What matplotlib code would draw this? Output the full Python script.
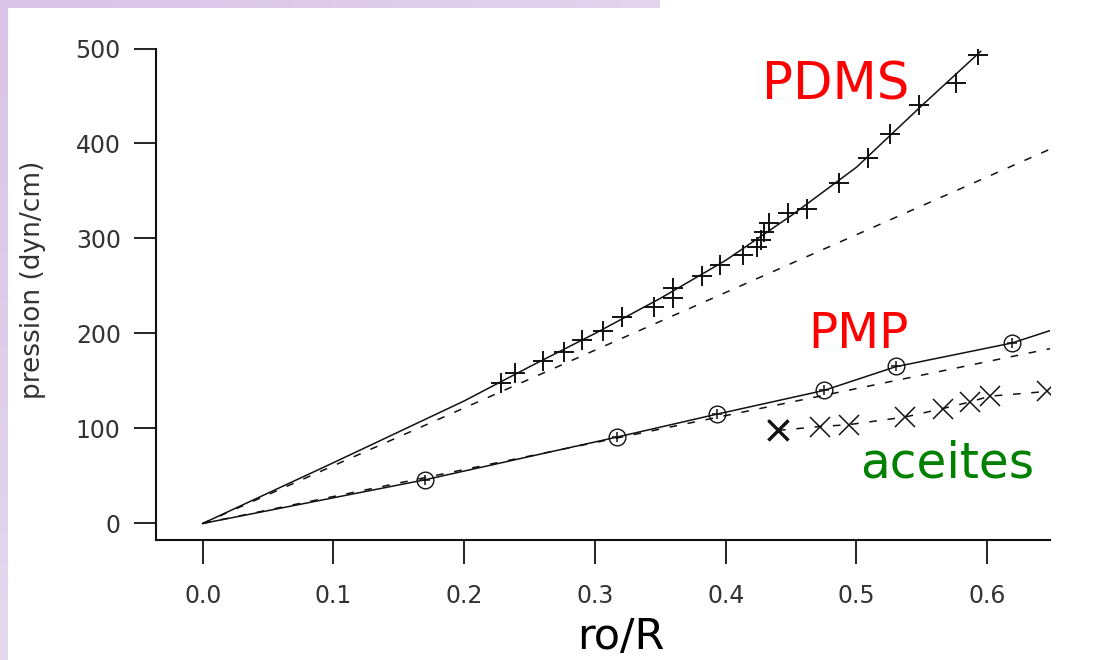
import numpy as np
import matplotlib
matplotlib.use("Agg")
from matplotlib import pyplot as plt

# ----------------- Données ----------------- #
# PDMS (croix +)
pdms_x = [0.228, 0.239, 0.260, 0.276, 0.290, 0.306, 0.321, 0.345, 0.360, 0.360,
          0.382, 0.396, 0.413, 0.424, 0.427, 0.429, 0.433, 0.448, 0.462, 0.487,
          0.509, 0.526, 0.548, 0.576, 0.593]
pdms_y = [148, 158, 171, 181, 193, 203, 217, 228, 237, 248,
          260, 272, 283, 291, 298, 307, 316, 327, 331, 358,
          385, 410, 440, 464, 493]
# courbe continue PDMS
pdms_fit_x = [0, 0.1, 0.2, 0.25, 0.3, 0.35, 0.4, 0.45, 0.5, 0.55, 0.595]
pdms_fit_y = [0, 64, 129, 165, 200, 237, 277, 324, 375, 440, 497]
# droite pointillée PDMS
pdms_lin_x = [0, 0.648]
pdms_lin_y = [0, 394]

# PMP (cercles)
pmp_x = [0.170, 0.317, 0.393, 0.475, 0.530, 0.619]
pmp_y = [46, 91, 115, 140, 166, 190]
pmp_fit_x = [0, 0.170, 0.317, 0.393, 0.475, 0.530, 0.619, 0.648]
pmp_fit_y = [0, 46, 91, 115, 140, 165, 190, 203]
pmp_lin_x = [0, 0.648]
pmp_lin_y = [0, 184]

# aceites (croix x)
oil_x = [0.440, 0.472, 0.494, 0.537, 0.566, 0.587, 0.602, 0.646]
oil_y = [98, 102, 104, 112, 121, 128, 134, 139]

xticks = [0.0, 0.1, 0.2, 0.3, 0.4, 0.5, 0.6]
yticks = [0, 100, 200, 300, 400, 500]

# ----------------- Figure ----------------- #
W, H = 1111, 660
fig = plt.figure(figsize=(W / 100, H / 100), dpi=100)
fig.patch.set_facecolor("white")

# bandes lavande (fond de diapositive)
grad = np.linspace(0, 1, 256)
band_l = fig.add_axes([0, 0, 8 / W, 1])
band_l.imshow(grad.reshape(-1, 1)[::-1], aspect="auto", cmap=matplotlib.colors.LinearSegmentedColormap.from_list(
    "lav", ["#e4d8ee", "#d9c3e6"]), extent=[0, 1, 0, 1])
band_l.axis("off")
band_t = fig.add_axes([0, 1 - 8 / H, 660 / W, 8 / H])
band_t.imshow(grad.reshape(1, -1), aspect="auto", cmap=matplotlib.colors.LinearSegmentedColormap.from_list(
    "lav2", ["#d9c3e6", "#e3d5ee"]), extent=[0, 1, 0, 1])
band_t.axis("off")

ax = fig.add_axes([155.5 / W, 1 - 540 / H, (1050 - 155.5) / W, (540 - 48.5) / H])
ax.set_xlim(-0.0361, 0.648)
ax.set_ylim(-17.4, 500)

ink = "#111111"
# droites pointillées
ax.plot(pdms_lin_x, pdms_lin_y, color=ink, lw=1.1, dashes=(5, 7))
ax.plot(pmp_lin_x, pmp_lin_y, color=ink, lw=1.1, dashes=(5, 7))
ax.plot(oil_x, oil_y, color=ink, lw=1.1, dashes=(5, 7))

# courbes continues
ax.plot(pdms_fit_x, pdms_fit_y, color=ink, lw=1.1)
ax.plot(pmp_fit_x, pmp_fit_y, color=ink, lw=1.1)

# marqueurs
ax.plot(pdms_x, pdms_y, ls="none", marker="+", ms=15, mew=1.4, color=ink)
ax.plot(pmp_x, pmp_y, ls="none", marker="o", ms=12, mew=1.0, mfc="none", mec=ink)
ax.plot(pmp_x, pmp_y, ls="none", marker="+", ms=7, mew=1.1, color=ink)
ax.plot(oil_x, oil_y, ls="none", marker="x", ms=14, mew=1.1, color=ink)
ax.plot(oil_x[:1], oil_y[:1], ls="none", marker="x", ms=14, mew=2.4, color=ink)

# axes
for s in ["top", "right"]:
    ax.spines[s].set_visible(False)
for s in ["left", "bottom"]:
    ax.spines[s].set_linewidth(1.5)
    ax.spines[s].set_color(ink)
ax.set_xticks(xticks)
ax.set_xticklabels([f"{v:.1f}" for v in xticks])
ax.set_yticks(yticks)
ax.tick_params(axis="x", direction="out", length=17, width=1.3, pad=15,
               labelsize=17, labelcolor="#333333", color=ink)
ax.tick_params(axis="y", direction="out", length=16, width=1.3, pad=9,
               labelsize=17, labelcolor="#333333", color=ink)

# textes
fig.text(33 / W, 1 - 280 / H, "pression (dyn/cm)", rotation=90, fontsize=19,
         color="#333333", ha="center", va="center")
fig.text(621 / W, 2 / H, "ro/R", fontsize=31, color="black",
         ha="center", va="bottom")
fig.text(836 / W, 1 - 100 / H, "PDMS", fontsize=37, color="#ff0000",
         ha="center", va="baseline")
fig.text(858 / W, 1 - 348 / H, "PMP", fontsize=35, color="#ff0000",
         ha="center", va="baseline")
fig.text(947 / W, 1 - 478 / H, "aceites", fontsize=35, color="#008000",
         ha="center", va="baseline")

fig.savefig("out.png", dpi=100, facecolor=fig.get_facecolor())
